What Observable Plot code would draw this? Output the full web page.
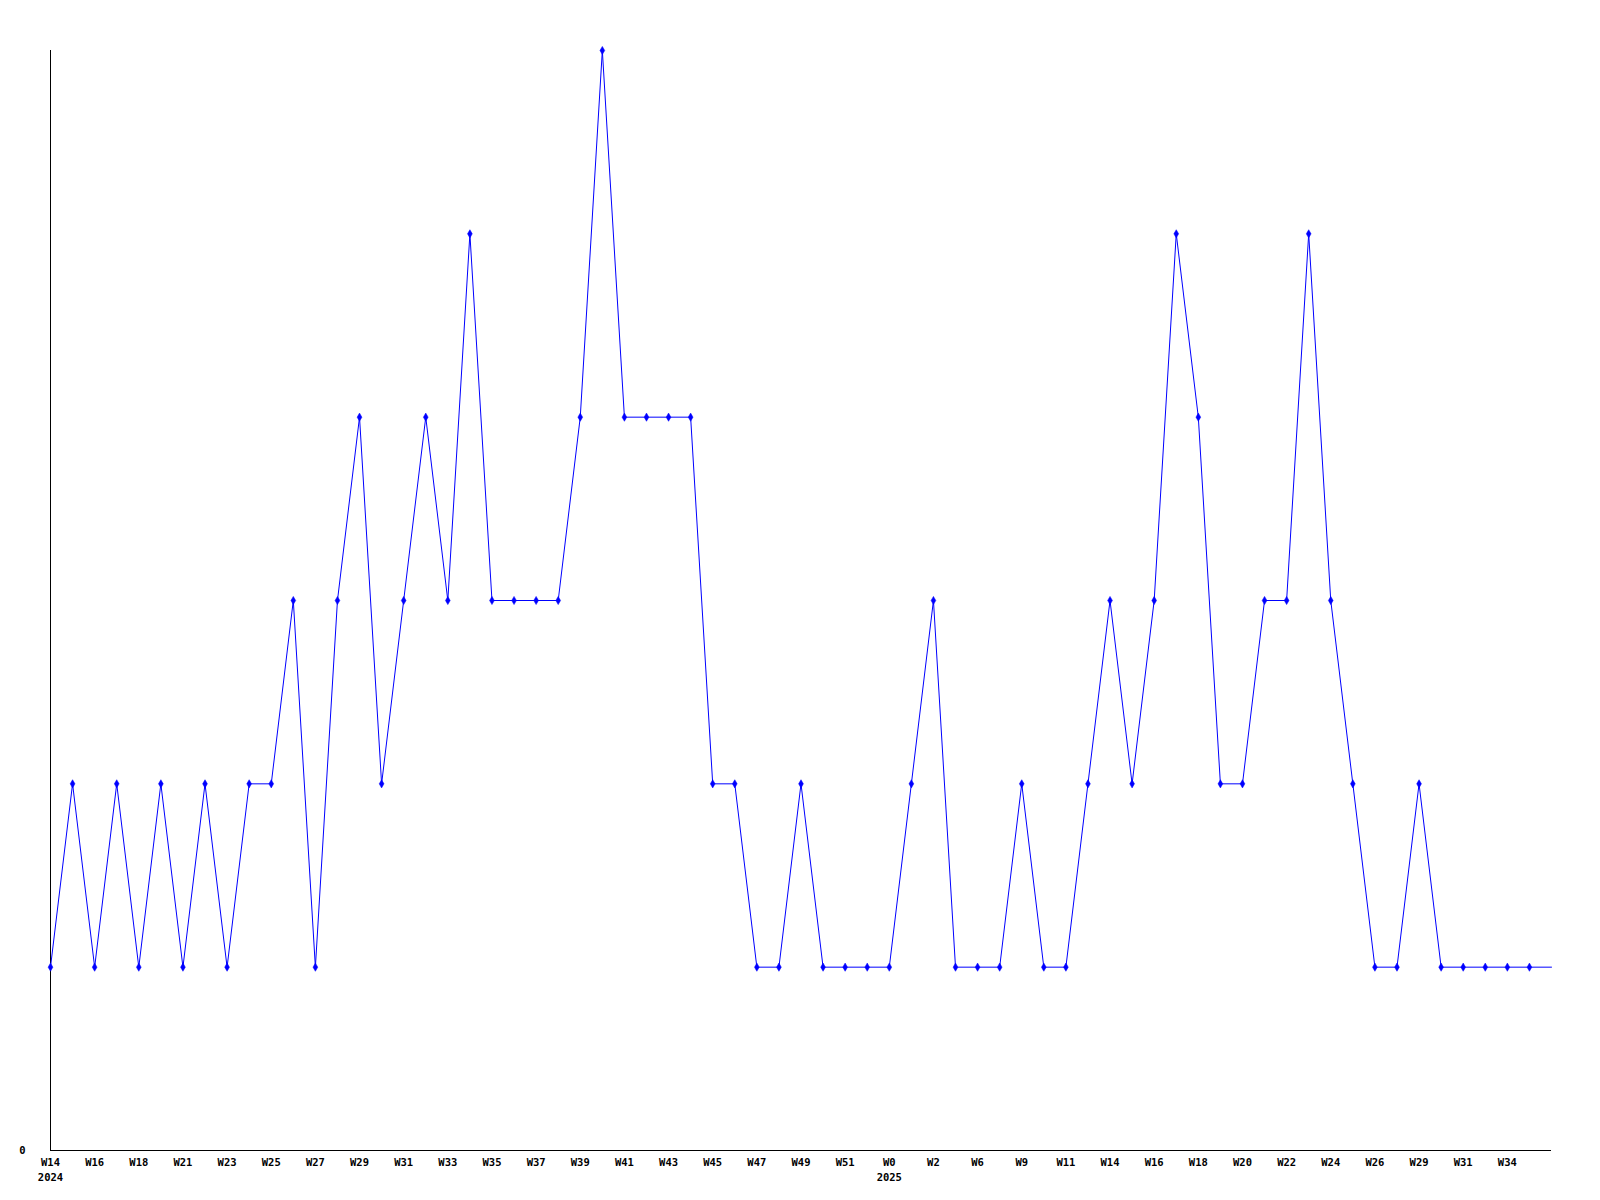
<!DOCTYPE html>
<html>
<head>
<meta charset="utf-8">
<script src="https://cdn.jsdelivr.net/npm/d3@7"></script>
<script src="https://cdn.jsdelivr.net/npm/@observablehq/plot@0.6"></script>
<style>
  html, body { margin: 0; padding: 0; background: #fff; }
  #chart svg { display: block; }
</style>
</head>
<body>
<div id="chart"></div>
<script>
// Week labels for each point (2024 W14 … 2025 W35)
const weeks = [
  "W14","W15","W16","W17","W18","W20","W21","W22","W23","W24",
  "W25","W26","W27","W28","W29","W30","W31","W32","W33","W34",
  "W35","W36","W37","W38","W39","W40","W41","W42","W43","W44",
  "W45","W46","W47","W48","W49","W50","W51","W52","W0","W1",
  "W2","W3","W6","W8","W9","W10","W11","W13","W14","W15",
  "W16","W17","W18","W19","W20","W21","W22","W23","W24","W25",
  "W26","W28","W29","W30","W31","W33","W34","W35","W36"
];
// Weekly counts
const counts = [
  1,2,1,2,1,2,1,2,1,2,
  2,3,1,3,4,2,3,4,3,5,
  3,3,3,3,4,6,4,4,4,4,
  2,2,1,1,2,1,1,1,1,2,
  3,1,1,1,2,1,1,2,3,2,
  3,5,4,2,2,3,3,5,3,2,
  1,1,2,1,1,1,1,1,1
];
// Which points carry a tick label, and the year labels
const tickIdx = d3.range(0, 67, 2);
const yearIdx = [0, 38];
const yearLabels = ["2024", "2025"];
const yTicks = [0];

const data = counts.map((v, i) => ({i, v, week: weeks[i]}));
const markers = data.slice(0, data.length - 1);
const years = yearIdx.map((i, k) => ({i, label: yearLabels[k]}));

const chart = Plot.plot({
  width: 1600,
  height: 1200,
  marginLeft: 50,
  marginRight: 49,
  marginTop: 50,
  marginBottom: 50,
  style: {fontFamily: "'DejaVu Sans Mono', monospace", fontSize: "10.5px", fontWeight: "bold", color: "#000", background: "#fff"},
  x: {type: "linear", domain: [0, counts.length - 1]},
  y: {domain: [0, 6]},
  marks: [
    Plot.axisX({ticks: tickIdx, tickFormat: i => weeks[i], tickSize: 0, tickPadding: 8, label: null}),
    Plot.axisY({ticks: yTicks, tickFormat: d => String(d), tickSize: 0, tickPadding: 25, label: null}),
    Plot.text(years, {x: "i", y: 0, text: "label", dy: 27, fill: "#000"}),
    Plot.ruleX([0], {y1: 0, y2: 6, stroke: "#000", strokeWidth: 1}),
    Plot.ruleY([0], {stroke: "#000", strokeWidth: 1}),
    Plot.line(data, {x: "i", y: "v", stroke: "#0000ff", strokeWidth: 1}),
    Plot.dot(markers, {x: "i", y: "v", symbol: "diamond", r: 2.5, fill: "#0000ff", stroke: "#0000ff", strokeWidth: 0.5})
  ]
});
document.getElementById("chart").appendChild(chart);
</script>
</body>
</html>
